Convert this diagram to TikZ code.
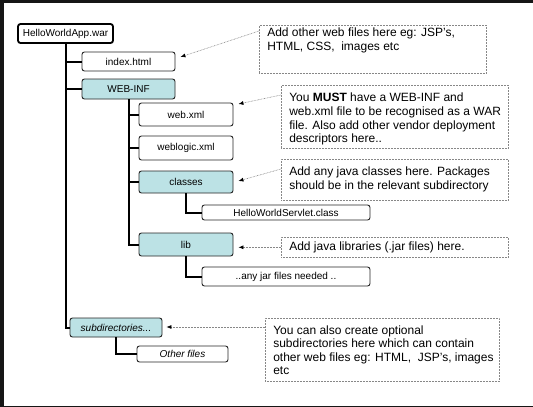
\documentclass[tikz,border=0pt]{standalone}
\usepackage{fontspec}
\setmainfont{Liberation Sans}
\usetikzlibrary{arrows.meta,calc}
\definecolor{folder}{RGB}{188,226,229}
\definecolor{framecol}{RGB}{22,22,22}
\definecolor{notegray}{RGB}{135,135,135}
\newcommand{\notetext}[4]{\parbox[c][#1pt][t]{#2pt}{\raggedright\leftskip=8pt\vspace*{#3pt}#4}}
\tikzset{
  filebox/.style={draw=black!85, line width=0.9pt, rounded corners=2.5pt, fill=white, inner sep=0pt, font=\fontsize{10}{12}\selectfont},
  folderbox/.style={filebox, fill=folder},
  rootbox/.style={filebox, line width=1.8pt, draw=black},
  treeline/.style={line width=2pt, black},
  notebox/.style={draw=notegray, line width=0.6pt, dash pattern=on 0.7pt off 0.8pt, anchor=north west, inner sep=0pt, font=\fontsize{12}{13.6}\selectfont},
  pointer/.style={draw=notegray, line width=0.6pt, dash pattern=on 0.7pt off 0.8pt, -{Latex[length=5pt,width=4pt,color=black]}},
}
\begin{document}
\begin{tikzpicture}[x=1pt,y=-1pt]
\useasboundingbox (0,0) rectangle (533,407);
\fill[framecol] (0,0) rectangle (533,407);
\fill[white] (4,3) rectangle (533,406);

% tree nodes
\node[rootbox, minimum width=95pt, minimum height=19pt] (war) at (65.5,33.5) {HelloWorldApp.war};
\node[filebox, minimum width=93pt, minimum height=19pt] (index) at (128.5,61.5) {index.html};
\node[folderbox, minimum width=93pt, minimum height=20pt] (webinf) at (128.5,89) {WEB-INF};
\node[filebox, minimum width=94pt, minimum height=23pt] (webxml) at (186,114.5) {web.xml};
\node[filebox, minimum width=94pt, minimum height=24pt] (weblogic) at (186,148) {weblogic.xml};
\node[folderbox, minimum width=94pt, minimum height=22pt] (classes) at (186,182) {classes};
\node[filebox, minimum width=168pt, minimum height=15pt] (servlet) at (286,212.5) {HelloWorldServlet.class};
\node[folderbox, minimum width=94pt, minimum height=23pt] (lib) at (186,244.5) {lib};
\node[filebox, minimum width=168pt, minimum height=19pt] (jar) at (286,276.5) {..any jar files needed ..};
\node[folderbox, minimum width=92pt, minimum height=19pt] (subdir) at (116,327.5) {\itshape subdirectories...};
\node[filebox, minimum width=91pt, minimum height=16pt] (other) at (182.5,354) {\itshape Other files};

% tree connectors
\draw[treeline] (war.south) |- (index.west);
\draw[treeline] (war.south) |- (webinf.west);
\draw[treeline] (war.south) |- (subdir.west);
\draw[treeline] (webinf.south) |- (webxml.west);
\draw[treeline] (webinf.south) |- (weblogic.west);
\draw[treeline] (webinf.south) |- (classes.west);
\draw[treeline] (webinf.south) |- (lib.west);
\draw[treeline] (classes.south) |- (servlet.west);
\draw[treeline] (lib.south) |- (jar.west);
\draw[treeline] (subdir.south) |- (other.west);

% notes
\node[notebox] (n1) at (259,25) {\notetext{48}{227}{3}{Add other web files here eg: JSP's,\\HTML, CSS,\ \ images etc}};
\node[notebox] (n2) at (281,85) {\notetext{63}{227}{8}{You \textbf{MUST} have a WEB-INF and\\web.xml file to be recognised as a WAR\\file. Also add other vendor deployment\\descriptors here..}};
\node[notebox] (n3) at (281,159) {\notetext{41}{227}{8}{Add any java classes here. Packages\\should be in the relevant subdirectory}};
\node[notebox] (n4) at (281,237) {\notetext{20}{227}{5}{Add java libraries (.jar files) here.}};
\node[notebox] (n5) at (265,318) {\notetext{63}{234}{7}{You can also create optional\\subdirectories here which can contain\\other web files eg: HTML,\ \ JSP's, images\\etc}};

% pointers
\coordinate (t1) at ($(index.east)+(5,-4.5)$);
\coordinate (t2) at ($(webxml.east)+(5,-10.5)$);
\coordinate (t3) at ($(classes.east)+(5,-1)$);
\coordinate (t4) at ($(lib.east)+(5,0)$);
\coordinate (t5) at ($(subdir.east)+(4,0)$);
\draw[pointer] ($(n1.north west)+(0,6)$) -- (t1);
\draw[pointer] ($(n2.north west)+(0,10)$) -- (t2);
\draw[pointer] ($(n3.north west)+(0,10)$) -- (t3);
\draw[pointer] (n4.west) -- (t4 |- n4.west);
\draw[pointer] ($(n5.north west)+(0,9)$) -- (t5 |- {$(n5.north west)+(0,9)$});
\end{tikzpicture}
\end{document}
